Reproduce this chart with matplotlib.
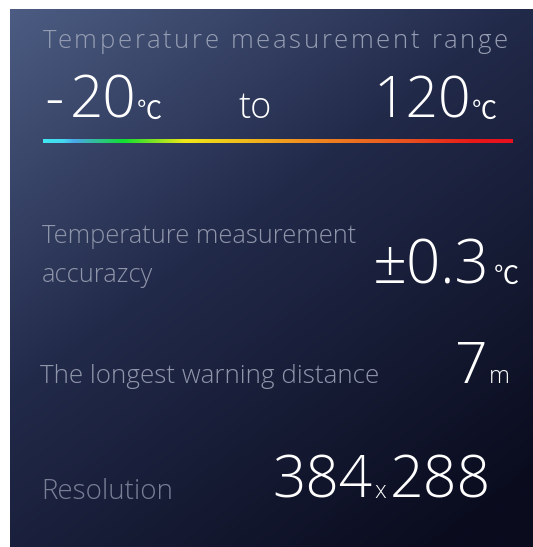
import numpy as np
import matplotlib
matplotlib.use("Agg")
import matplotlib.pyplot as plt
from matplotlib.colors import LinearSegmentedColormap
from matplotlib.font_manager import FontProperties

# ---- data ----
title = "Temperature measurement range"
range_low = "-20"
range_high = "120"
range_unit = "℃"
range_sep = "to"
spec_labels = ["Temperature measurement\naccurazcy", "The longest warning distance", "Resolution"]
spec_values = ["±0.3", "7", "384"]
spec_units = ["℃", "m", "x"]
spec_tail = ["", "", "288"]
grad_stops = [0.0, 0.04, 0.065, 0.17, 0.30, 0.55, 0.78, 0.92, 1.0]
grad_colors = ["#3fe6f0", "#46d8f2", "#4aa8e8", "#10e030", "#f0e818", "#f09020", "#e85020", "#e81818", "#e81020"]

W, H = 533, 547
DPI = 100
fig = plt.figure(figsize=(W / DPI, H / DPI), dpi=DPI)
fig.patch.set_facecolor("white")
ax = fig.add_axes([0, 0, 1, 1])
ax.set_xlim(0, W)
ax.set_ylim(H, 0)
ax.axis("off")
renderer = fig.canvas.get_renderer()

# background gradient panel
x0, y0 = 10, 9
nx, ny = 300, 300
GX, GY = np.meshgrid(np.linspace(0, 1, nx), np.linspace(0, 1, ny))
t = np.clip(0.55 * GX + 0.75 * GY, 0, 1.2) / 1.2
top_left = np.array([0x4c, 0x5c, 0x82]) / 255
mid = np.array([0x22, 0x2a, 0x4a]) / 255
bot = np.array([0x0a, 0x0c, 0x1e]) / 255
tt = t[..., None]
img = np.where(tt < 0.45, top_left + (mid - top_left) * (tt / 0.45),
               mid + (bot - mid) * ((tt - 0.45) / 0.55))
ax.imshow(img, extent=[x0, W, H, y0], aspect="auto", zorder=0, interpolation="bilinear")

FONT = "Open Sans"
CJK = ["Noto Sans CJK SC", "DejaVu Sans"]
white = "#ffffff"
grey_title = "#959db2"
grey_lab = "#8f96aa"
grey_res = "#787f95"


def tracked_text(s, xl, xr, yb, size, color, weight=300):
    prop = FontProperties(family=FONT, weight=weight, size=size)

    def wid(u):
        if not u.strip():
            return 0.0
        return renderer.get_text_width_height_descent(u, prop, ismath=False)[0]

    natural = wid(s)
    track = (xr - xl - natural) / (len(s) - 1)
    for i, ch in enumerate(s):
        if ch == " ":
            continue
        pos = xl + wid(s[:i + 1]) - wid(ch) + i * track
        ax.text(pos, yb, ch, fontproperties=prop, color=color, ha="left", va="baseline")


# title with letter spacing
tracked_text(title, 43, 508, 48, 18.5, grey_title)

# big range numbers
ax.text(44, 118, range_low[0], fontsize=44, color=white, family=FONT, fontweight=300,
        ha="left", va="baseline")
ax.text(136, 118, range_low[1:], fontsize=42, color=white, family=FONT, fontweight=300,
        ha="right", va="baseline")
ax.text(137, 119, range_unit, fontsize=18, color=white, family=CJK, fontweight="light",
        ha="left", va="baseline")
ax.text(255, 118, range_sep, fontsize=26, color=white, family=FONT, fontweight=300,
        ha="center", va="baseline")
ax.text(471, 118, range_high, fontsize=41, color=white, family=FONT, fontweight=300,
        ha="right", va="baseline")
ax.text(472, 119, range_unit, fontsize=18, color=white, family=CJK, fontweight="light",
        ha="left", va="baseline")

# gradient bar
cmap = LinearSegmentedColormap.from_list("temp", list(zip(grad_stops, grad_colors)))
bar = np.linspace(0, 1, 400)[None, :]
ax.imshow(bar, cmap=cmap, extent=[43, 513, 143.5, 139.5], aspect="auto", zorder=2,
          interpolation="bilinear")

# spec rows
l1, l2 = spec_labels[0].split("\n")
ax.text(42, 243, l1, fontsize=18.4, color=grey_lab, family=FONT, fontweight=300,
        ha="left", va="baseline")
ax.text(42, 282, l2, fontsize=18.4, color=grey_lab, family=FONT, fontweight=300,
        ha="left", va="baseline")
ax.text(489, 283, spec_values[0], fontsize=43, color=white, family=FONT, fontweight=300,
        ha="right", va="baseline")
ax.text(494, 284, spec_units[0], fontsize=18, color=white, family=CJK, fontweight="light",
        ha="left", va="baseline")

ax.text(40, 383, spec_labels[1], fontsize=18.7, color=grey_lab, family=FONT, fontweight=300,
        ha="left", va="baseline")
ax.text(487, 383, spec_values[1], fontsize=41, color=white, family=FONT, fontweight=300,
        ha="right", va="baseline")
ax.text(489, 383, spec_units[1], fontsize=17, color=white, family=FONT, fontweight=300,
        ha="left", va="baseline")

ax.text(41, 499, spec_labels[2], fontsize=20, color=grey_res, family=FONT, fontweight=300,
        ha="left", va="baseline")
ax.text(372, 498, spec_values[2], fontsize=42, color=white, family=FONT, fontweight=300,
        ha="right", va="baseline")
ax.text(380.5, 498, spec_units[2], fontsize=17, color=white, family=FONT, fontweight=300,
        ha="center", va="baseline")
ax.text(390, 498, spec_tail[2], fontsize=42.5, color=white, family=FONT, fontweight=300,
        ha="left", va="baseline")

fig.savefig("out.png", dpi=DPI, facecolor="white")
